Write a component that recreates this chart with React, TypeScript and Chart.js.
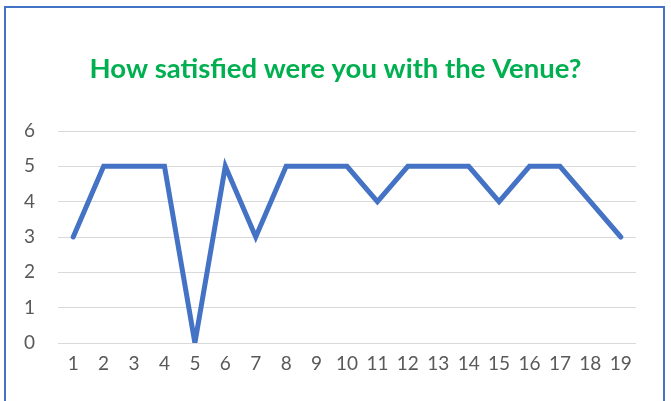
import React, { useEffect, useRef } from "react";
import { Chart, registerables } from "chart.js";

Chart.register(...registerables);

const categories = ["1","2","3","4","5","6","7","8","9","10","11","12","13","14","15","16","17","18","19"];
const values = [3,5,5,5,0,5,3,5,5,5,4,5,5,5,4,5,5,4,3];
const titleText = "How satisfied were you with the Venue?";

export default function App() {
  const ref = useRef<HTMLCanvasElement>(null);
  useEffect(() => {
    if (!ref.current) return;
    const chart = new Chart(ref.current, {
      type: "line",
      data: {
        labels: categories,
        datasets: [{
          data: values,
          borderColor: "#4472C4",
          backgroundColor: "#4472C4",
          borderWidth: 5,
          pointRadius: 0,
          tension: 0,
          borderCapStyle: "round",
          borderJoinStyle: "miter",
        }],
      },
      options: {
        responsive: false,
        animation: false,
        layout: { padding: { left: 0, right: 0, top: 0, bottom: 0 } },
        plugins: {
          legend: { display: false },
          tooltip: { enabled: false },
          title: {
            display: true,
            text: titleText,
            color: "#00B050",
            font: { family: "Lato", size: 27.5, weight: "bold" },
            padding: { top: 53, bottom: 45 },
          },
        },
        scales: {
          x: {
            offset: true,
            grid: { display: false, drawTicks: false },
            border: { display: false },
            ticks: { color: "#595959", font: { family: "Lato", size: 19 }, padding: 9, maxRotation: 0, autoSkip: false },
            afterFit: (s: any) => { s.height = 58; },
          },
          y: {
            min: 0,
            max: 6,
            ticks: { stepSize: 1, color: "#595959", font: { family: "Lato", size: 19 }, padding: 23 },
            grid: { color: "#D9D9D9", lineWidth: 1, drawTicks: false },
            border: { display: false },
            afterFit: (s: any) => { s.width = 58; },
          },
          yRight: {
            position: "right",
            min: 0,
            max: 6,
            ticks: { display: false },
            grid: { display: false, drawTicks: false },
            border: { display: false },
            afterFit: (s: any) => { s.width = 35; },
          },
        },
      },
    });
    return () => chart.destroy();
  }, []);
  return (
    <div style={{ position: "absolute", left: 0, top: 0, width: 671, height: 401, background: "#fff", overflow: "hidden" }}>
      <canvas ref={ref} width={671} height={401} style={{ position: "absolute", left: 0, top: 0 }} />
      <div style={{ position: "absolute", left: 4, top: 6, width: 661, height: 420, border: "2px solid #4472C4", boxSizing: "border-box" }} />
    </div>
  );
}
